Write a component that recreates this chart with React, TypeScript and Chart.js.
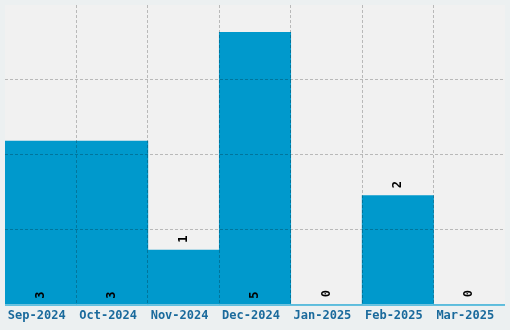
import React, { useEffect, useRef } from "react";
import { Chart, registerables } from "chart.js";

Chart.register(...registerables);

const categories = ["Sep-2024", "Oct-2024", "Nov-2024", "Dec-2024", "Jan-2025", "Feb-2025", "Mar-2025"];
const counts = [3, 3, 1, 5, 0, 2, 0];
const yMax = 5.5;
const yStep = 1.375;

const FONT = "'DejaVu Sans Mono', monospace";
const BAR = "#0099cc";
const GRID = "rgba(0,0,0,0.23)";

const decor = {
  id: "decor",
  beforeDraw(chart: any) {
    const { ctx, chartArea: a } = chart;
    ctx.save();
    ctx.fillStyle = "#ecf0f1";
    ctx.fillRect(0, 0, chart.width, chart.height);
    ctx.fillStyle = "#f1f1f1";
    ctx.fillRect(a.left, a.top, a.right - a.left, a.bottom - a.top);
    ctx.restore();
  },
  afterDraw(chart: any) {
    const { ctx, chartArea: a } = chart;
    ctx.save();
    ctx.strokeStyle = "#0aa0d2";
    ctx.lineWidth = 1;
    ctx.beginPath();
    ctx.moveTo(a.left, a.bottom + 0.5);
    ctx.lineTo(a.right, a.bottom + 0.5);
    ctx.stroke();
    const meta = chart.getDatasetMeta(0);
    const data = chart.data.datasets[0].data as number[];
    ctx.fillStyle = "#000";
    ctx.font = `bold 12px ${FONT}`;
    ctx.textAlign = "center";
    ctx.textBaseline = "middle";
    meta.data.forEach((bar: any, i: number) => {
      const h = bar.base - bar.y;
      const cy = h > 140 ? bar.base - 9 : bar.y - 11;
      ctx.save();
      ctx.translate(bar.x, cy);
      ctx.rotate(-Math.PI / 2);
      ctx.fillText(String(data[i]), 0, 0);
      ctx.restore();
    });
    ctx.restore();
  },
};

export default function App() {
  const ref = useRef<HTMLCanvasElement>(null);
  useEffect(() => {
    document.body.style.margin = "0";
    const chart = new Chart(ref.current!, {
      type: "bar",
      data: {
        labels: categories,
        datasets: [
          {
            data: counts,
            backgroundColor: BAR,
            borderWidth: 0,
            barPercentage: 1,
            categoryPercentage: 1,
          },
        ],
      },
      options: {
        responsive: false,
        animation: false,
        layout: { padding: { left: 5, top: 5, right: 5, bottom: 3 } },
        plugins: { legend: { display: false }, tooltip: { enabled: false } },
        scales: {
          x: {
            grid: {
              z: 1,
              drawTicks: false,
              offset: true,
              color: (c: any) =>
                c.index === undefined || c.index === 0 ? "rgba(0,0,0,0)" : GRID,
            },
            border: { display: false, dash: [3, 2] },
            ticks: {
              padding: 4,
              labelOffset: -4,
              color: "#1a6a9c",
              font: { family: FONT, size: 12, weight: "bold" },
            },
          },
          y: {
            min: 0,
            max: yMax,
            grid: {
              z: 1,
              drawTicks: false,
              color: (c: any) =>
                c.tick && (c.tick.value === 0 || c.tick.value >= yMax) ? "rgba(0,0,0,0)" : GRID,
            },
            border: { display: false, dash: [3, 2] },
            ticks: { display: false, stepSize: yStep },
          },
        },
      },
      plugins: [decor],
    });
    return () => chart.destroy();
  }, []);
  return <canvas ref={ref} width={510} height={330} style={{ display: "block" }} />;
}
